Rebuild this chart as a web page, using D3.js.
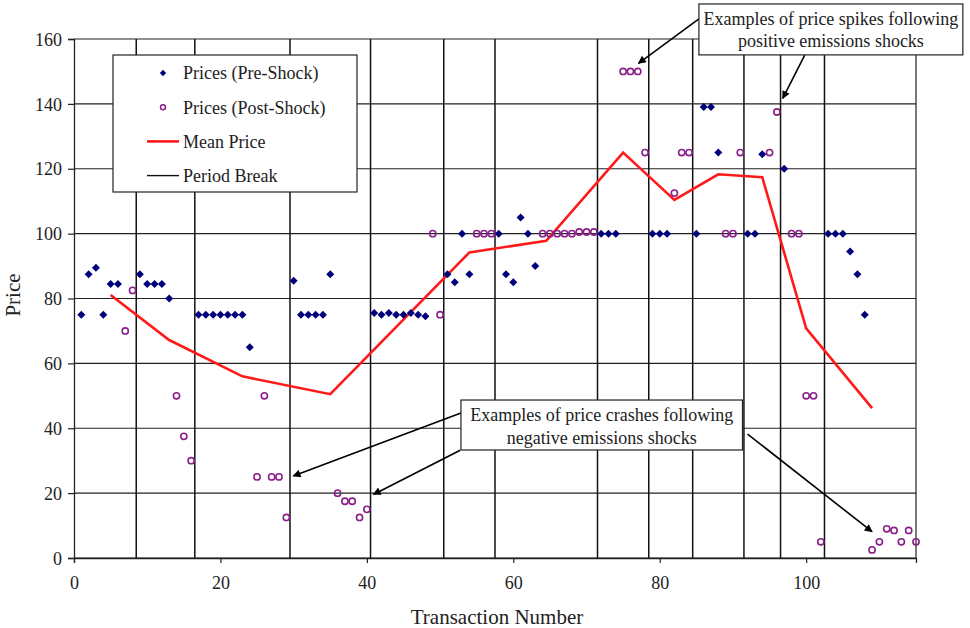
<!DOCTYPE html>
<html>
<head>
<meta charset="utf-8">
<script src="https://cdn.jsdelivr.net/npm/d3@7"></script>
<style>
    body { margin: 0; background: #fff; }
    svg { display: block; font-family: "Liberation Serif", "Times New Roman", serif; }
    svg text { font-family: "Liberation Serif", "Times New Roman", serif; }
</style>
</head>
<body>
<div id="chart"></div>
<script>
// Transaction prices: [transaction number, price]
var preShock = [
    [1, 75], [2, 87.5], [3, 89.5], [4, 75], [5, 84.5], [6, 84.5],
    [9, 87.5], [10, 84.5], [11, 84.5], [12, 84.5], [13, 80],
    [17, 75], [18, 75], [19, 75], [20, 75], [21, 75], [22, 75], [23, 75], [24, 65],
    [30, 85.5], [31, 75], [32, 75], [33, 75], [34, 75], [35, 87.5],
    [41, 75.5], [42, 75], [43, 75.5], [44, 75], [45, 75], [46, 75.5], [47, 75], [48, 74.5],
    [51, 87.5], [52, 85], [53, 100], [54, 87.5],
    [58, 100], [59, 87.5], [60, 85], [61, 105], [62, 100], [63, 90],
    [72, 100], [73, 100], [74, 100],
    [79, 100], [80, 100], [81, 100],
    [85, 100], [86, 139], [87, 139], [88, 125],
    [92, 100], [93, 100], [94, 124.5],
    [97, 120],
    [103, 100], [104, 100], [105, 100], [106, 94.5], [107, 87.5], [108, 75]
];

var postShock = [
    [7, 70], [8, 82.5],
    [14, 50], [15, 37.5], [16, 30],
    [25, 25], [26, 50], [27, 25], [28, 25], [29, 12.5],
    [36, 20], [37, 17.5], [38, 17.5], [39, 12.5], [40, 15],
    [49, 100], [50, 75],
    [55, 100], [56, 100], [57, 100],
    [64, 100], [65, 100], [66, 100], [67, 100], [68, 100], [69, 100.5], [70, 100.5], [71, 100.5],
    [75, 150], [76, 150], [77, 150], [78, 125],
    [82, 112.5], [83, 125], [84, 125],
    [89, 100], [90, 100], [91, 125],
    [95, 125], [96, 137.5],
    [98, 100], [99, 100], [100, 50], [101, 50], [102, 5],
    [109, 2.5], [110, 5], [111, 9], [112, 8.5], [113, 5], [114, 8.5], [115, 5]
];

var meanPrice = [
    [5, 81.1], [13, 67.2], [23, 56], [35, 50.5], [54, 94.2], [64.5, 97.8],
    [75, 125], [82, 110.4], [88, 118.3], [94, 117.4], [100, 70.8], [109, 46.2]
];

var periodBreaks = [8.5, 16.5, 29.5, 40.5, 50.5, 57.5, 71.5, 78.5, 84.5, 91.5, 96.5, 102.5];

var xTicks = [0, 20, 40, 60, 80, 100];
var yTicks = [0, 20, 40, 60, 80, 100, 120, 140, 160];

var legendItems = ['Prices (Pre-Shock)', 'Prices (Post-Shock)', 'Mean Price', 'Period Break'];

// Callouts, in data units: box corners, text lines and the points the arrows reach
var callouts = [
    {
        box: [52.85, 48.7, 91.3, 33.3],
        lines: ['Examples of price crashes following', 'negative emissions shocks'],
        arrows: [
            { from: [52.85, 44.7], to: [29.95, 25.3] },
            { from: [52.75, 33.2], to: [40.9, 19.6] },
            { from: [92.0, 38.2], to: [109.0, 8.1] }
        ]
    },
    {
        box: [85.35, 170.8, 121.4, 155.1],
        lines: ['Examples of price spikes following', 'positive emissions shocks'],
        arrows: [
            { from: [85.35, 166.2], to: [77.1, 152.5] },
            { from: [99.8, 155.0], to: [96.8, 141.7] }
        ]
    }
];

var width = 970, height = 628;
var margin = { top: 39, right: 54, bottom: 70, left: 74 };
var serif = '"Liberation Serif", "Times New Roman", serif';

var svg = d3.select('#chart').append('svg')
    .attr('width', width)
    .attr('height', height)
    .attr('font-family', serif);

var defs = svg.append('defs');
defs.append('marker')
    .attr('id', 'arrowhead')
    .attr('viewBox', '0 0 10 10')
    .attr('refX', 9)
    .attr('refY', 5)
    .attr('markerWidth', 11)
    .attr('markerHeight', 8)
    .attr('markerUnits', 'userSpaceOnUse')
    .attr('orient', 'auto')
    .append('path')
    .attr('d', 'M0,0 L10,5 L0,10 Z')
    .attr('fill', '#000');

var x = d3.scaleLinear().domain([0, 115]).range([margin.left, width - margin.right]);
var y = d3.scaleLinear().domain([0, 160]).range([height - margin.bottom, margin.top]);

// Horizontal gridlines
svg.append('g')
    .selectAll('line')
    .data(yTicks)
    .join('line')
    .attr('x1', x(0))
    .attr('x2', x(115))
    .attr('y1', function (d) { return y(d); })
    .attr('y2', function (d) { return y(d); })
    .attr('stroke', '#222')
    .attr('stroke-width', 1.2);

// Period breaks
svg.append('g')
    .selectAll('line')
    .data(periodBreaks)
    .join('line')
    .attr('x1', function (d) { return x(d); })
    .attr('x2', function (d) { return x(d); })
    .attr('y1', y(0))
    .attr('y2', y(160))
    .attr('stroke', '#111')
    .attr('stroke-width', 1.5);

// Axes
var xAxis = svg.append('g')
    .attr('transform', 'translate(0,' + y(0) + ')')
    .call(d3.axisBottom(x).tickValues(xTicks).tickSize(5).tickPadding(13));
var yAxis = svg.append('g')
    .attr('transform', 'translate(' + x(0) + ',0)')
    .call(d3.axisLeft(y).tickValues(yTicks).tickSize(6).tickPadding(6));

[xAxis, yAxis].forEach(function (ax) {
    ax.attr('font-family', serif).attr('font-size', 18);
    ax.select('.domain').attr('stroke', '#222').attr('stroke-width', 1.3);
    ax.selectAll('.tick line').attr('stroke', '#222').attr('stroke-width', 1.2);
    ax.selectAll('.tick text')
        .attr('fill', '#222')
        .style('font-family', serif)
        .style('font-size', '18px');
});
yAxis.selectAll('.tick text').attr('dy', '0.34em');

// Right border of the plot
svg.append('line')
    .attr('x1', x(115)).attr('x2', x(115))
    .attr('y1', y(0)).attr('y2', y(160))
    .attr('stroke', '#222').attr('stroke-width', 1.2);

// Axis titles
svg.append('text')
    .attr('x', (x(0) + x(115)) / 2 + 2)
    .attr('y', 624)
    .attr('text-anchor', 'middle')
    .attr('fill', '#222')
    .style('font-size', '21px')
    .text('Transaction Number');

svg.append('text')
    .attr('transform', 'translate(20,295) rotate(-90)')
    .attr('text-anchor', 'middle')
    .attr('fill', '#222')
    .style('font-size', '21px')
    .text('Price');

// Mean price line
svg.append('path')
    .datum(meanPrice)
    .attr('d', d3.line().x(function (d) { return x(d[0]); }).y(function (d) { return y(d[1]); }))
    .attr('fill', 'none')
    .attr('stroke', '#ff1a1a')
    .attr('stroke-width', 2.6)
    .attr('stroke-linejoin', 'miter');

var diamond = d3.symbol().type(d3.symbolSquare).size(32);

svg.append('g')
    .selectAll('path')
    .data(preShock)
    .join('path')
    .attr('d', diamond)
    .attr('transform', function (d) { return 'translate(' + x(d[0]) + ',' + y(d[1]) + ') rotate(45)'; })
    .attr('fill', '#00007a');

svg.append('g')
    .selectAll('circle')
    .data(postShock)
    .join('circle')
    .attr('cx', function (d) { return x(d[0]); })
    .attr('cy', function (d) { return y(d[1]); })
    .attr('r', 3.1)
    .attr('fill', 'none')
    .attr('stroke', '#8a1f8a')
    .attr('stroke-width', 1.6);

// Legend
var legend = svg.append('g').attr('transform', 'translate(113,55)');
legend.append('rect')
    .attr('width', 244)
    .attr('height', 137)
    .attr('fill', '#fff')
    .attr('stroke', '#222')
    .attr('stroke-width', 1.2);

var rows = legend.selectAll('g')
    .data(legendItems)
    .join('g')
    .attr('transform', function (d, i) { return 'translate(0,' + (18 + i * 34.2) + ')'; });

rows.append('text')
    .attr('x', 70)
    .attr('dy', '0.35em')
    .attr('fill', '#222')
    .style('font-size', '18px')
    .text(function (d) { return d; });

rows.filter(function (d, i) { return i === 0; })
    .append('path')
    .attr('d', d3.symbol().type(d3.symbolSquare).size(20))
    .attr('transform', 'translate(50,0) rotate(45)')
    .attr('fill', '#00007a');

rows.filter(function (d, i) { return i === 1; })
    .append('circle')
    .attr('cx', 50)
    .attr('r', 2.5)
    .attr('fill', 'none')
    .attr('stroke', '#8a1f8a')
    .attr('stroke-width', 1.5);

rows.filter(function (d, i) { return i === 2; })
    .append('line')
    .attr('x1', 34).attr('x2', 66)
    .attr('stroke', '#ff1a1a')
    .attr('stroke-width', 2.6);

rows.filter(function (d, i) { return i === 3; })
    .append('line')
    .attr('x1', 34).attr('x2', 66)
    .attr('stroke', '#111')
    .attr('stroke-width', 1.4);

// Callouts with arrows
callouts.forEach(function (c) {
    var g = svg.append('g');
    c.arrows.forEach(function (a) {
        g.append('line')
            .attr('x1', x(a.from[0])).attr('y1', y(a.from[1]))
            .attr('x2', x(a.to[0])).attr('y2', y(a.to[1]))
            .attr('stroke', '#000')
            .attr('stroke-width', 1.6)
            .attr('marker-end', 'url(#arrowhead)');
    });
    var bx0 = x(c.box[0]), by0 = y(c.box[1]), bx1 = x(c.box[2]), by1 = y(c.box[3]);
    g.append('rect')
        .attr('x', bx0).attr('y', by0)
        .attr('width', bx1 - bx0).attr('height', by1 - by0)
        .attr('fill', '#fff')
        .attr('stroke', '#222')
        .attr('stroke-width', 1.2);
    g.selectAll('text.callout')
        .data(c.lines)
        .join('text')
        .attr('class', 'callout')
        .attr('x', (bx0 + bx1) / 2)
        .attr('y', function (d, i) { return by0 + 21 + i * 22.5; })
        .attr('text-anchor', 'middle')
        .attr('fill', '#222')
        .style('font-size', '18px')
        .text(function (d) { return d; });
});
</script>
</body>
</html>
